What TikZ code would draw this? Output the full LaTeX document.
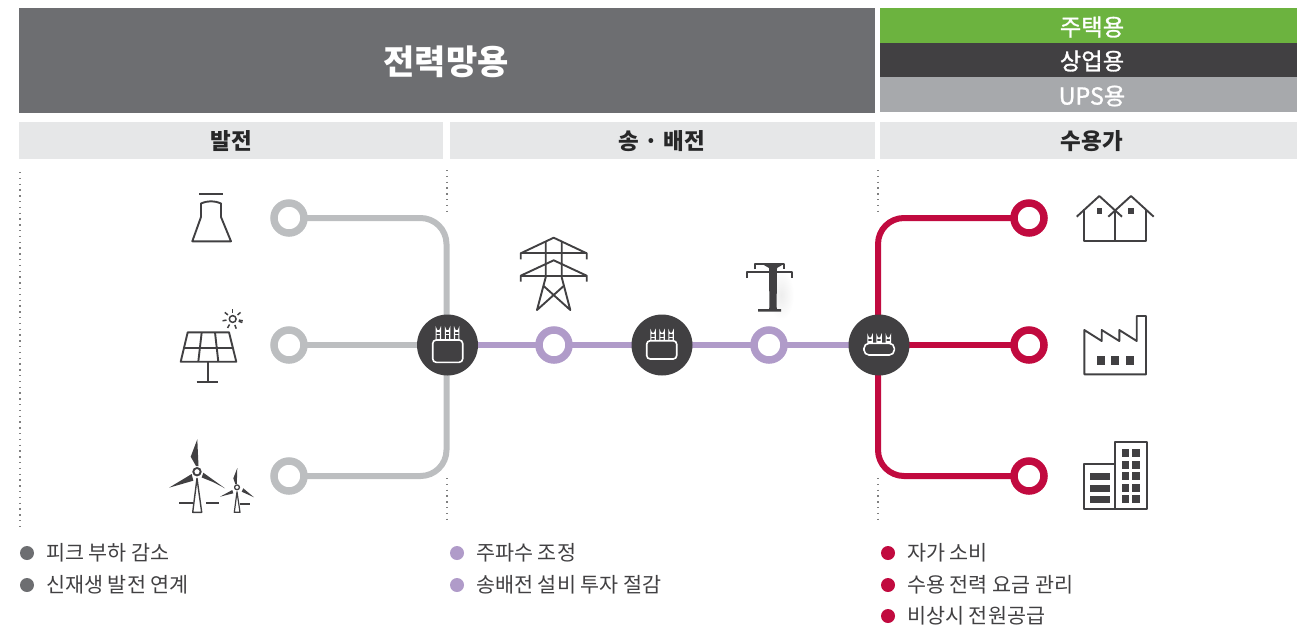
\documentclass[tikz,border=0pt]{standalone}
\usepackage{fontspec}
\setmainfont{Noto Sans CJK KR}
\newfontfamily\medf[FakeBold=1.2]{Noto Sans CJK KR}
\usetikzlibrary{backgrounds}
\definecolor{hdr}{HTML}{6D6E71}
\definecolor{grn}{HTML}{6CB33F}
\definecolor{drk}{HTML}{414042}
\definecolor{mid}{HTML}{A7A9AC}
\definecolor{lite}{HTML}{E6E7E8}
\definecolor{rgray}{HTML}{BCBEC0}
\definecolor{rpur}{HTML}{B09BC9}
\definecolor{rred}{HTML}{C10A3F}
\tikzset{
  x=1pt,y=-1pt,
  ring/.style={circle,draw=#1,line width=7.5pt,fill=white,minimum size=30pt,inner sep=0,outer sep=0},
  hub/.style={circle,fill=drk,minimum size=61pt,inner sep=0,outer sep=0},
  conn/.style={line width=6pt,draw=#1,rounded corners=26pt},
  ico/.style={draw=drk,line width=1.9pt,line join=round},
  icf/.style={fill=drk,draw=none},
  tr/.style={draw=white,line width=1.6pt,rounded corners=3.5pt},
  trl/.style={draw=white,line width=1.1pt},
  dots/.style={draw=black!50,line width=1.4pt,dash pattern=on 1.4pt off 4.4pt},
  bullet/.style={circle,fill=#1,minimum size=14pt,inner sep=0,outer sep=0},
  lst/.style={anchor=west,inner sep=0,text=drk,font=\fontsize{20.7}{21}\selectfont},
  head/.style={text=drk!60!black,font=\fontsize{22.5}{23}\selectfont\bfseries},
  tab/.style={text=white,font=\medf\fontsize{23.3}{24}\selectfont}
}
\newcommand{\bush}[3]{%
  \draw[trl] (#1-2.2,#3) -- (#1-2.2,#2+2) arc[start angle=180,end angle=0,radius=2.2] -- (#1+2.2,#3);
  \draw[trl] (#1-2.2,#2+4.5) -- (#1+2.2,#2+4.5);
  \draw[trl] (#1-2.2,#2+8) -- (#1+2.2,#2+8);
}
\begin{document}
\begin{tikzpicture}
\useasboundingbox (0,0) rectangle (1297,630);
% bands
\fill[hdr] (19,8) rectangle (875,113);
\node[text=white,font=\fontsize{34}{34}\selectfont\bfseries] (title) at (446,62) {전력망용};
\fill[grn] (880,8) rectangle (1297,43);
\fill[drk] (880,43) rectangle (1297,77);
\fill[mid] (880,77) rectangle (1297,112);
\node[tab] (t1) at (1092,27) {주택용};
\node[tab] (t2) at (1092,61) {상업용};
\node[tab] (t3) at (1092,96) {UPS용};
\fill[lite] (19,122) rectangle (443,159);
\fill[lite] (450,122) rectangle (875,159);
\fill[lite] (880,122) rectangle (1297,159);
\node[head] (h1) at (231,141) {발전};
\node[head] (h2) at (662,141) {송 · 배전};
\node[head] (h3) at (1092,141) {수용가};
% dotted separators
\coordinate (d1a) at (20,172); \coordinate (d1b) at (20,528);
\coordinate (d2a) at (447,170); \coordinate (d2b) at (447,214);
\coordinate (d3a) at (447,478); \coordinate (d3b) at (447,524);
\coordinate (d4a) at (878,170); \coordinate (d4b) at (878,214);
\coordinate (d5a) at (878,478); \coordinate (d5b) at (878,524);
\draw[dots] (d1a) -- (d1b);
\draw[dots] (d2a) -- (d2b);
\draw[dots] (d3a) -- (d3b);
\draw[dots] (d4a) -- (d4b);
\draw[dots] (d5a) -- (d5b);
% nodes
\node[ring=rgray] (g1) at (289,218) {};
\node[ring=rgray] (g2) at (289,345) {};
\node[ring=rgray] (g3) at (289,476) {};
\node[hub] (hubA) at (447.5,345) {};
\node[ring=rpur] (p1) at (554,345) {};
\node[hub] (hubB) at (662,345) {};
\node[ring=rpur] (p2) at (769,345) {};
\node[hub] (hubC) at (879,345) {};
\node[ring=rred] (r1) at (1029,218) {};
\node[ring=rred] (r2) at (1029,345) {};
\node[ring=rred] (r3) at (1029,476) {};
% connectors
\begin{pgfonlayer}{background}
\coordinate (va) at ([xshift=-1pt]hubA.center);
\coordinate (vc) at ([xshift=-1pt]hubC.center);
\draw[conn=rgray] (g1.center) -- (g1.center -| va) -- (va);
\draw[conn=rgray] (g3.center) -- (g3.center -| va) -- (va);
\draw[conn=rgray] (g2.center) -- (hubA.center);
\draw[conn=rpur] (hubA.center) -- (p1.center);
\draw[conn=rpur] (p1.center) -- (hubB.center);
\draw[conn=rpur] (hubB.center) -- (p2.center);
\draw[conn=rpur] (p2.center) -- (hubC.center);
\draw[conn=rred] (r1.center) -- (r1.center -| vc) -- (vc);
\draw[conn=rred] (r3.center) -- (r3.center -| vc) -- (vc);
\draw[conn=rred] (r2.center) -- (hubC.center);
\end{pgfonlayer}
% transformer glyphs
\draw[tr] (432.7,340) rectangle (462.7,362.3);
\bush{438.3}{326.7}{340}\bush{447.5}{326.7}{340}\bush{456.7}{326.7}{340}
\draw[tr] (646.7,340.7) rectangle (676.7,359);
\bush{653}{329.3}{340.7}\bush{662}{329.3}{340.7}\bush{671}{329.3}{340.7}
\draw[tr,rounded corners=5pt] (864,343.3) rectangle (894.3,355);
\bush{870}{334}{343.3}\bush{879}{334}{343.3}\bush{888.3}{334}{343.3}
% cooling tower
\draw[ico] (199,194) -- (223,194);
\draw[ico] (192.3,241.3) -- (201,217) -- (201,203.5) .. controls (208,200.5) and (214,200.5) .. (221,203.5) -- (221,217) -- (231,241.3) -- cycle;
% solar panel
\draw[ico] (187.7,332.3) -- (229,332.3) -- (236.3,361.7) -- (180.7,361.7) -- cycle;
\draw[ico] (184.3,347.7) -- (232.7,347.7);
\draw[ico] (201.7,332.3) -- (198.3,361.7);
\draw[ico] (215,332.3) -- (218.3,361.7);
\draw[ico] (207.7,361.7) -- (207.7,381.7);
\draw[ico] (196.7,381.7) -- (218.3,381.7);
\draw[ico,line width=1.5pt] (232.7,319) circle[radius=3.4];
\foreach \a in {0,50,...,350}{
  \draw[draw=drk,line width=1.5pt] (232.7,319) ++(\a+20:6.3) -- ++(\a+20:4);
}
% wind turbines
\fill[icf] (197.3,439.3) -- (190.7,456.7) -- (196,466) -- (198.5,466) -- cycle;
\fill[icf] (169,487.7) -- (191.7,474) -- (193.3,480.7) -- cycle;
\fill[icf] (225,488.3) -- (203.3,472.7) -- (201.7,477.5) -- (213,482) -- cycle;
\draw[ico] (197,471.7) circle[radius=3.7];
\draw[ico,line width=1.4pt] (192.7,512.3) -- (197,478.3) -- (201.7,512.3) -- cycle;
\draw[ico] (179.3,503.3) -- (192.7,503.3);
\draw[ico] (206,503.3) -- (219,503.3);
\fill[icf] (237.3,468) -- (233.3,478.3) -- (235.3,484) -- (236.8,484) -- cycle;
\fill[icf] (220,496.7) -- (232.3,490) -- (233.3,493.3) -- cycle;
\fill[icf] (254,497.3) -- (243.3,488.3) -- (241.7,491.7) -- cycle;
\draw[ico,line width=1.3pt] (237,487.3) circle[radius=2.4];
\draw[ico,line width=1.2pt] (234.3,512.3) -- (237,491.7) -- (240,512.3) -- cycle;
\draw[ico] (240,504.3) -- (250,504.3);
% pylon
\draw[ico] (520.7,259.3) -- (520.7,253.3) -- (553.7,237.7) -- (586.7,253.3) -- (586.7,259.3);
\draw[ico] (520.7,253.3) -- (586.7,253.3);
\draw[ico] (520.7,281.7) -- (520.7,275.7) -- (553.7,260.3) -- (586.7,275.7) -- (586.7,281.7);
\draw[ico] (520.7,275.7) -- (586.7,275.7);
\draw[ico] (545.7,241.7) -- (545.7,277.3) -- (537,310) -- (564,285.7);
\draw[ico] (561.7,241.7) -- (561.7,277.3) -- (570.3,310) -- (543.3,285.7);
% pole
\shade[inner color=black!7,outer color=white] (781,295) ellipse[x radius=13,y radius=25];
\draw[ico] (755,269.3) -- (755,263.7) -- (784.3,263.7) -- (784.3,269.3);
\draw[ico] (746.7,278) -- (746.7,271.7) -- (792.3,271.7) -- (792.3,278);
\fill[icf] (763,263) -- (783,263) -- (783,264.5) -- (777,268) -- (776.6,307) -- (777,309) -- (781,309) -- (781,311.5) -- (758,311.5) -- (758,309) -- (769,309) -- (769.4,307) -- (769,268) -- (763,264.5) -- cycle;
% houses
\draw[ico] (1076.7,216.7) -- (1099.3,196) -- (1122,216.7);
\draw[ico] (1108.3,216.7) -- (1131,196) -- (1153.7,216.7);
\draw[ico] (1084.3,209.3) -- (1084.3,241) -- (1146,241) -- (1146,209.3);
\draw[ico] (1115.3,211.7) -- (1115.3,241);
\fill[icf] (1096.7,208) rectangle (1102.3,213.7);
\fill[icf] (1128.3,208) rectangle (1134,213.7);
% factory
\draw[ico] (1084.3,330) -- (1084.3,374.3) -- (1146,374.3) -- (1146,316) -- (1136.7,316) -- (1136.7,341) -- (1119.3,330) -- (1119.3,341) -- (1101.7,330) -- (1101.7,341) -- cycle;
\fill[icf] (1096.7,356) rectangle (1105.3,364.7);
\fill[icf] (1110.7,356) rectangle (1119.3,364.7);
\fill[icf] (1125.7,356) rectangle (1134.3,364.7);
% building
\draw[ico] (1115,464.3) -- (1084,464.3) -- (1084,509.3) -- (1146.7,509.3) -- (1146.7,442) -- (1115,442) -- (1115,509.3);
\foreach \y/\z in {473.3/480,485/491.7,496.3/503}{\fill[icf] (1089.7,\y) rectangle (1110.3,\z);}
\foreach \y/\z in {449/456.7,461/468.7,472.3/480,484/491.7,495.3/503}{
  \fill[icf] (1121.7,\y) rectangle (1129.3,\z);
  \fill[icf] (1132.3,\y) rectangle (1140.3,\z);
}
% lists
\node[bullet=hdr] (b1) at (27,553) {};
\node[bullet=hdr] (b2) at (27,585) {};
\node[lst] (l1) at (46,553) {피크 부하 감소};
\node[lst] (l2) at (46,585) {신재생 발전 연계};
\node[bullet=rpur] (b3) at (457,553) {};
\node[bullet=rpur] (b4) at (457,585) {};
\node[lst] (l3) at (476,553) {주파수 조정};
\node[lst] (l4) at (476,585) {송배전 설비 투자 절감};
\node[bullet=rred] (b5) at (888,553) {};
\node[bullet=rred] (b6) at (888,585) {};
\node[bullet=rred] (b7) at (888,616) {};
\node[lst] (l5) at (907,553) {자가 소비};
\node[lst] (l6) at (907,585) {수용 전력 요금 관리};
\node[lst] (l7) at (907,616) {비상시 전원공급};
\end{tikzpicture}
\end{document}
